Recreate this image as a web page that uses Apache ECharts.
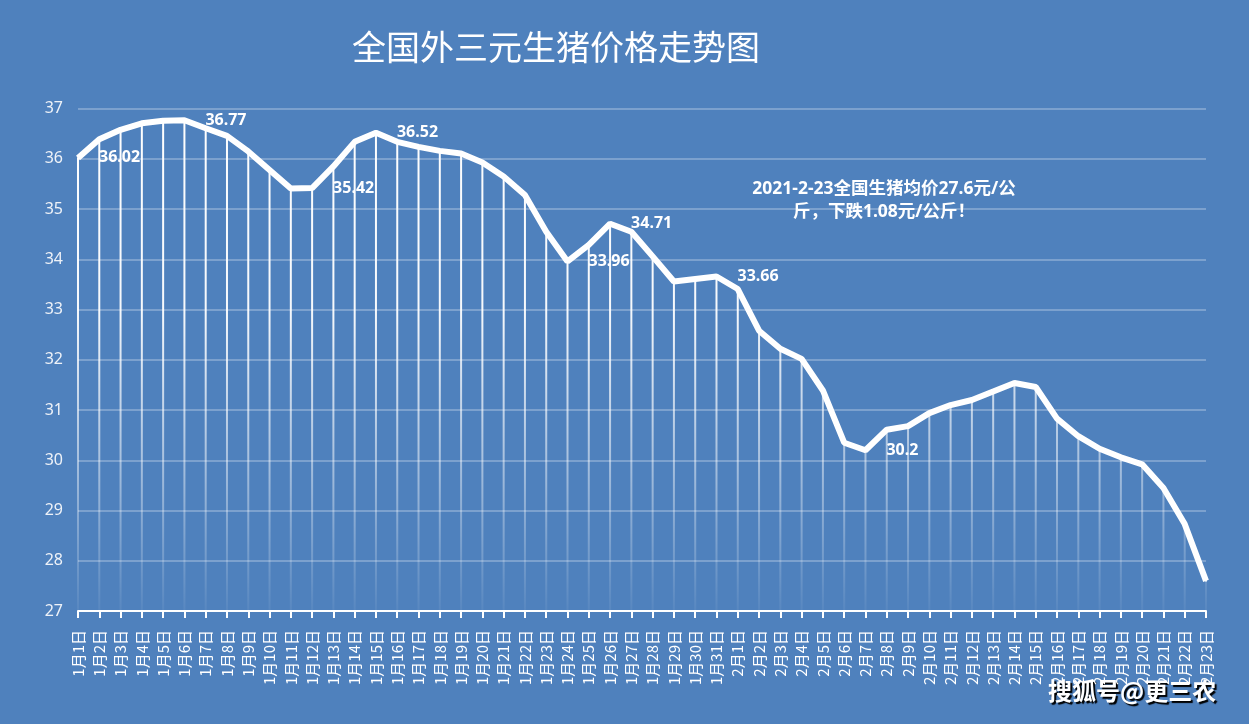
<!DOCTYPE html>
<html>
<head>
<meta charset="utf-8">
<title>全国外三元生猪价格走势图</title>
<script src="https://cdn.jsdelivr.net/npm/echarts@6/dist/echarts.min.js"></script>
<style>
  html, body { margin: 0; padding: 0; background: #4f81bd; }
  #main { width: 1249px; height: 724px; }
</style>
</head>
<body>
<div id="main"></div>
<script>
// 日期：1月1日 ~ 2月23日
var janDays = 31
var febDays = 23
var categories = []
for (var d = 1; d <= janDays; d++) categories.push('1月' + d + '日')
for (var d2 = 1; d2 <= febDays; d2++) categories.push('2月' + d2 + '日')

// 全国外三元生猪均价（元/公斤）
var prices = [
  36.02, 36.39, 36.58, 36.71, 36.76, 36.77, 36.61, 36.46, 36.15, 35.78,
  35.41, 35.42, 35.85, 36.34, 36.52, 36.34, 36.24, 36.16, 36.11, 35.93,
  35.65, 35.28, 34.55, 33.96, 34.29, 34.71, 34.55, 34.06, 33.56, 33.61,
  33.66, 33.41, 32.58, 32.22, 32.02, 31.39, 30.35, 30.20, 30.61, 30.68,
  30.94, 31.10, 31.20, 31.37, 31.54, 31.46, 30.83, 30.48, 30.23, 30.06,
  29.92, 29.45, 28.73, 27.60
]

// 显示数据标签的点
var labelIndex = [0, 5, 11, 14, 23, 25, 30, 37]

var yMin = 27
var yMax = 37

var lineData = prices.map(function (v, i) {
  if (labelIndex.indexOf(i) >= 0) {
    return { value: v, label: { show: true } }
  }
  return v
})

var dropData = prices.map(function (v, i) {
  return [i, v]
})

// 竖直引线（从数据点到横轴，向下渐隐）
function renderDrop(params, api) {
  var top = api.coord([api.value(0), api.value(1)])
  var base = api.coord([api.value(0), yMin])
  var cs = params.coordSys
  return {
    type: 'line',
    shape: { x1: top[0], y1: top[1], x2: base[0], y2: base[1] },
    style: {
      stroke: new echarts.graphic.LinearGradient(0, cs.y, 0, cs.y + cs.height, [
        { offset: 0, color: 'rgba(255,255,255,1)' },
        { offset: 0.4, color: 'rgba(255,255,255,0.95)' },
        { offset: 0.7, color: 'rgba(255,255,255,0.5)' },
        { offset: 1, color: 'rgba(255,255,255,0.05)' }
      ], true),
      lineWidth: 2
    }
  }
}

var chart = echarts.init(document.getElementById('main'))
var option = {
  backgroundColor: '#4f81bd',
  animation: false,
  title: {
    text: '全国外三元生猪价格走势图',
    left: 551,
    top: 25,
    textAlign: 'center',
    textStyle: {
      color: '#ffffff',
      fontSize: 34,
      fontWeight: 'normal',
      fontFamily: 'Noto Sans CJK SC'
    }
  },
  grid: {
    left: 78,
    right: 43,
    top: 108.7,
    bottom: 113,
    outerBoundsMode: 'none'
  },
  xAxis: {
    type: 'category',
    data: categories,
    boundaryGap: false,
    axisLine: { lineStyle: { color: '#ffffff', width: 2 } },
    axisTick: { show: true, length: 7, lineStyle: { color: '#ffffff', width: 2 } },
    axisLabel: {
      interval: 0,
      rotate: 90,
      margin: 19,
      color: '#ffffff',
      fontSize: 15,
      fontFamily: 'Noto Sans CJK SC'
    },
    splitLine: { show: false }
  },
  yAxis: {
    type: 'value',
    min: yMin,
    max: yMax,
    interval: 1,
    axisLine: { show: false },
    axisTick: { show: false },
    axisLabel: {
      margin: 15,
      color: '#eef2f8',
      fontSize: 16,
      fontFamily: 'Noto Sans'
    },
    splitLine: { lineStyle: { color: 'rgba(255,255,255,0.35)', width: 1.5 } }
  },
  graphic: [
    {
      type: 'text',
      x: 884,
      y: 178,
      style: {
        text: '2021-2-23全国生猪均价27.6元/公\n斤，下跌1.08元/公斤！',
        textAlign: 'center',
        textVerticalAlign: 'top',
        fill: '#ffffff',
        fontSize: 17.5,
        fontWeight: 'bold',
        lineHeight: 23,
        fontFamily: 'Noto Sans, Noto Sans CJK SC'
      }
    },
    {
      type: 'text',
      left: 1048,
      top: 679,
      style: {
        text: '搜狐号@更三农',
        fill: '#ffffff',
        fontSize: 24,
        fontWeight: 'bold',
        fontFamily: 'Noto Sans CJK SC',
        textShadowColor: '#000000',
        textShadowOffsetX: 2,
        textShadowOffsetY: 2,
        textShadowBlur: 1
      }
    }
  ],
  series: [
    {
      type: 'custom',
      renderItem: renderDrop,
      data: dropData,
      z: 1,
      silent: true
    },
    {
      type: 'line',
      data: lineData,
      z: 3,
      symbol: 'circle',
      symbolSize: 2,
      showSymbol: true,
      showAllSymbol: true,
      itemStyle: { color: '#ffffff' },
      lineStyle: { color: '#ffffff', width: 6 },
      label: {
        show: false,
        position: 'right',
        distance: 20,
        color: '#ffffff',
        fontSize: 16,
        fontWeight: 'bold',
        fontFamily: 'Noto Sans'
      }
    }
  ]
}
chart.setOption(option)
</script>
</body>
</html>
